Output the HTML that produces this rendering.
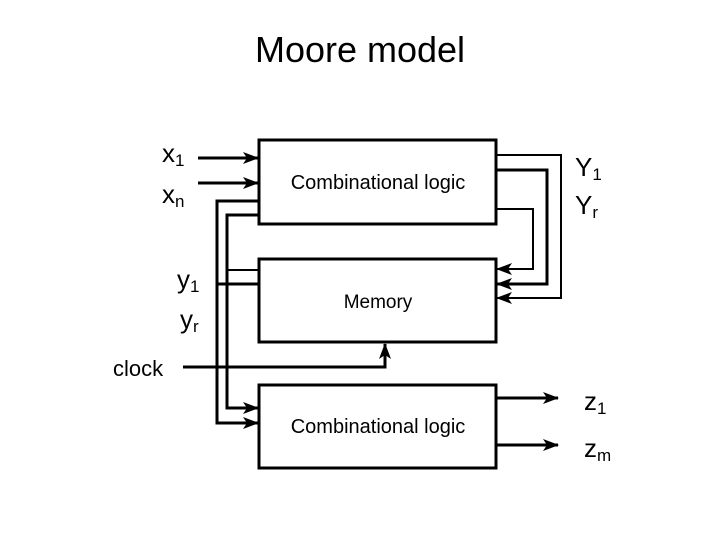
<!DOCTYPE html>
<html><head><style>body{margin:0;background:#fff}svg{display:block}text{font-family:"Liberation Sans",sans-serif;fill:#000}</style></head>
<body>
<svg width="720" height="540" viewBox="0 0 720 540">
<defs><marker id="a" markerWidth="16" markerHeight="12" refX="15" refY="6" orient="auto" markerUnits="userSpaceOnUse"><path d="M0,0 L16,6 L0,12 L4,6 Z" fill="#000"/></marker></defs>
<text x="360" y="62" font-size="36" text-anchor="middle">Moore model</text>
<g fill="none" stroke="#000" stroke-width="3">
<rect x="259" y="140" width="237" height="84"/>
<rect x="259" y="259" width="237" height="83"/>
<rect x="259" y="385" width="237" height="83"/>
<line x1="198" y1="158" x2="258" y2="158" marker-end="url(#a)"/>
<line x1="198" y1="183" x2="258" y2="183" marker-end="url(#a)"/>
<polyline points="258,201 217,201 217,423 258,423" marker-end="url(#a)"/>
<polyline points="258,215 227,215 227,408 258,408" marker-end="url(#a)"/>
<line x1="217" y1="284" x2="259" y2="284"/>
<line x1="227" y1="270" x2="259" y2="270" stroke-width="2"/>
<polyline points="183,367 385,367 385,344" marker-end="url(#a)"/>
<polyline points="496,155 561,155 561,298 497,298" stroke-width="2" marker-end="url(#a)"/>
<polyline points="496,170 547,170 547,284 497,284" marker-end="url(#a)"/>
<polyline points="496,209 533,209 533,269 497,269" stroke-width="2" marker-end="url(#a)"/>
<line x1="496" y1="398" x2="558" y2="398" marker-end="url(#a)"/>
<line x1="496" y1="445" x2="558" y2="445" marker-end="url(#a)"/>
</g>
<text x="378" y="189" font-size="20" text-anchor="middle">Combinational logic</text>
<text x="378" y="308" font-size="19" text-anchor="middle">Memory</text>
<text x="378" y="433" font-size="20" text-anchor="middle">Combinational logic</text>
<text x="162" y="162" font-size="26">x<tspan font-size="17" dy="4">1</tspan></text>
<text x="162" y="203" font-size="26">x<tspan font-size="17" dy="4">n</tspan></text>
<text x="177" y="288" font-size="26">y<tspan font-size="17" dy="4">1</tspan></text>
<text x="180" y="328" font-size="26">y<tspan font-size="17" dy="4">r</tspan></text>
<text x="113" y="376" font-size="22">clock</text>
<text x="575" y="176" font-size="26">Y<tspan font-size="17" dy="4">1</tspan></text>
<text x="575" y="214" font-size="26">Y<tspan font-size="17" dy="4">r</tspan></text>
<text x="584" y="410" font-size="26">z<tspan font-size="17" dy="4">1</tspan></text>
<text x="584" y="457" font-size="26">z<tspan font-size="17" dy="4">m</tspan></text>
</svg>
</body></html>
